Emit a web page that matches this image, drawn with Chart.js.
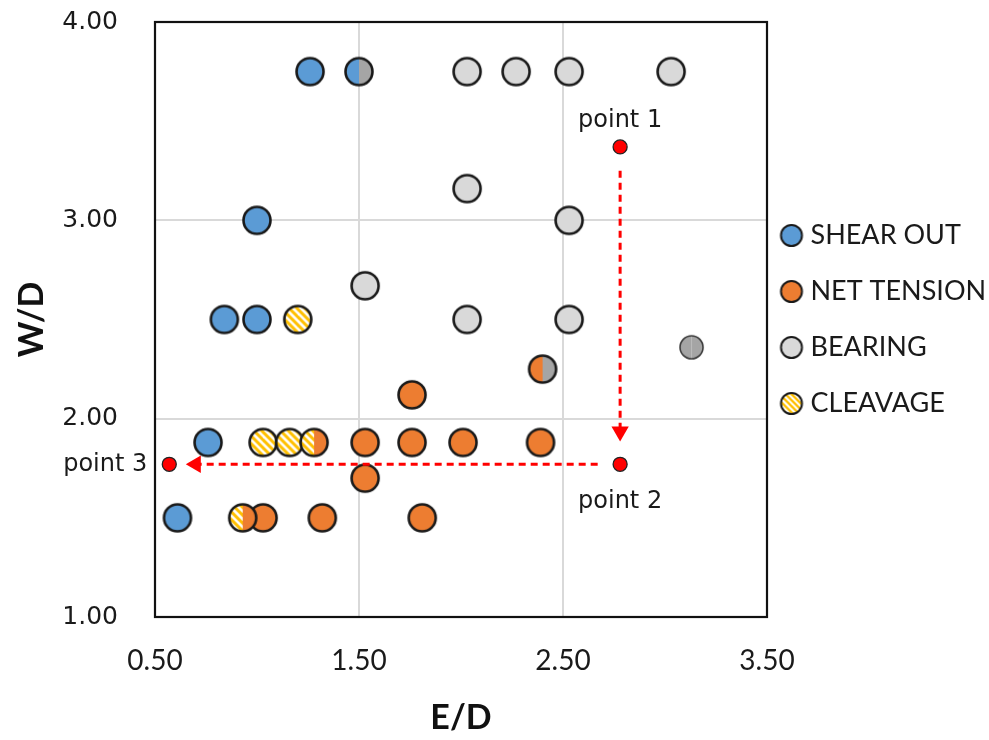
<!DOCTYPE html>
<html><head><meta charset="utf-8">
<script src="https://cdn.jsdelivr.net/npm/chart.js@4.4.1/dist/chart.umd.min.js"></script>
<style>html,body{margin:0;padding:0;background:#fff;} #wrap{width:989px;height:740px;}</style>
</head><body><div id="wrap"><canvas id="c" width="989" height="740"></canvas></div>
<script>
// ---- data ----
const xTickValues = [0.5, 1.5, 2.5, 3.5];
const xTickLabels = ['0.50', '1.50', '2.50', '3.50'];
const yTickValues = [1, 2, 3, 4];
const yTickLabels = ['1.00', '2.00', '3.00', '4.00'];
const legendNames = ['SHEAR OUT', 'NET TENSION', 'BEARING', 'CLEAVAGE'];

const shearOutE = [1.26, 1.00, 0.84, 1.00, 0.76, 0.61];
const shearOutW = [3.75, 3.00, 2.50, 2.50, 1.88, 1.50];
const netTensionE = [1.76, 1.53, 1.76, 2.01, 2.39, 1.53, 1.03, 1.32, 1.81];
const netTensionW = [2.12, 1.88, 1.88, 1.88, 1.88, 1.70, 1.50, 1.50, 1.50];
const bearingE = [2.03, 2.27, 2.53, 3.03, 2.03, 2.53, 1.53, 2.03, 2.53];
const bearingW = [3.75, 3.75, 3.75, 3.75, 3.16, 3.00, 2.67, 2.50, 2.50];
const cleavageE = [1.20, 1.03, 1.16];
const cleavageW = [2.50, 1.88, 1.88];
const shearBearingE = [1.50];
const shearBearingW = [3.75];
const tensionBearingE = [2.40];
const tensionBearingW = [2.25];
const cleavageTensionE = [1.28, 0.93];
const cleavageTensionW = [1.88, 1.50];
const otherE = [3.13];
const otherW = [2.36];
const pointNames = ['point 1', 'point 2', 'point 3'];
const pointE = [2.78, 2.78, 0.57];
const pointW = [3.37, 1.77, 1.77];
const arrowDownE = [2.78, 2.78];
const arrowDownW = [3.25, 1.935];
const arrowLeftE = [2.67, 0.70];
const arrowLeftW = [1.77, 1.77];

const zip = (xs, ys) => xs.map((x, i) => ({x, y: ys[i]}));

// ---- marker images ----
const BLUE = '#5B9BD5', ORANGE = '#ED7D31', LGREY = '#D9D9D9', DGREY = '#A5A5A5', YEL = '#FFC000';
function makeMarker(opt) {
  const r = opt.r, lw = opt.lw;
  const size = Math.ceil(2 * r + lw + 2);
  const W = opt.w || size, H = size;
  const cx = opt.cx != null ? opt.cx : W / 2, cy = H / 2;
  const c = document.createElement('canvas'); c.width = W; c.height = H;
  const g = c.getContext('2d');
  function fillHalf(fill, x0, x1) {
    g.save(); g.beginPath(); g.rect(x0, 0, x1 - x0, H); g.clip();
    g.beginPath(); g.arc(cx, cy, r, 0, Math.PI * 2); g.clip();
    if (fill === 'hatch') {
      g.fillStyle = YEL; g.fillRect(0, 0, W, H);
      g.strokeStyle = '#fff'; g.lineWidth = r * 0.19;
      const step = r * 0.58;
      for (let k = -2 * H; k < 2 * W; k += step) { g.beginPath(); g.moveTo(k, 0); g.lineTo(k + H, H); g.stroke(); }
    } else { g.fillStyle = fill; g.fillRect(0, 0, W, H); }
    g.restore();
  }
  fillHalf(opt.left, 0, cx);
  fillHalf(opt.right || opt.left, cx, W);
  g.beginPath(); g.arc(cx, cy, r, 0, Math.PI * 2);
  g.lineWidth = lw; g.strokeStyle = opt.stroke || '#1a1a1a'; g.stroke();
  return c;
}
const R = 13.5, LW = 2.6;
const mBlue = makeMarker({r: R, lw: LW, left: BLUE});
const mOrange = makeMarker({r: R, lw: LW, left: ORANGE});
const mBearing = makeMarker({r: R, lw: LW, left: LGREY});
const mCleavage = makeMarker({r: R, lw: LW, left: 'hatch'});
const mBlueGrey = makeMarker({r: R, lw: LW, left: BLUE, right: DGREY});
const mOrangeGrey = makeMarker({r: R, lw: LW, left: ORANGE, right: DGREY});
const mCleavOrange = makeMarker({r: R, lw: LW, left: 'hatch', right: ORANGE});
const mOther = makeMarker({r: 11.5, lw: 1.6, left: DGREY, stroke: '#3a3a3a'});
const legendFills = [BLUE, ORANGE, LGREY, 'hatch'];
const legendIcons = legendFills.map(f => makeMarker({r: 10.5, lw: 2, left: f, w: 44, cx: 17}));

// ---- layout targets ----
const AREA_RIGHT = 767;
const LEG_FONT = 27, LEG_PAD = 29;

const frame = {
  id: 'frame',
  beforeDatasetsDraw(chart) {
    const {ctx, chartArea: a} = chart;
    ctx.save(); ctx.strokeStyle = '#111'; ctx.lineWidth = 2.2;
    ctx.strokeRect(a.left, a.top, a.right - a.left, a.bottom - a.top);
    ctx.restore();
  }
};
const labelsPlugin = {
  id: 'pointLabels',
  afterDatasetsDraw(chart) {
    const idx = chart.data.datasets.findIndex(d => d.id === 'points');
    const meta = chart.getDatasetMeta(idx);
    const {ctx} = chart;
    ctx.save(); ctx.fillStyle = '#1a1a1a'; ctx.font = '24px "DejaVu Sans"'; ctx.textBaseline = 'middle';
    const offs = [[0, -26, 'center'], [0, 37, 'center'], [-22, 0, 'right']];
    meta.data.forEach((p, i) => {
      ctx.textAlign = offs[i][2];
      ctx.fillText(pointNames[i], p.x + offs[i][0], p.y + offs[i][1]);
    });
    ctx.restore();
  }
};

const base = {showLine: false, pointRadius: 14, clip: false};
const chart = new Chart(document.getElementById('c'), {
  type: 'scatter',
  data: {
    datasets: [
      {...base, label: 'SHEAR OUT', data: zip(shearOutE, shearOutW), pointStyle: mBlue, order: 10},
      {...base, label: 'NET TENSION', data: zip(netTensionE, netTensionW), pointStyle: mOrange, order: 9},
      {...base, label: 'BEARING', data: zip(bearingE, bearingW), pointStyle: mBearing, order: 8},
      {...base, label: 'CLEAVAGE', data: zip(cleavageE, cleavageW), pointStyle: mCleavage, order: 7},
      {...base, label: 'SHEAR OUT / BEARING', data: zip(shearBearingE, shearBearingW), pointStyle: mBlueGrey, order: 6},
      {...base, label: 'NET TENSION / BEARING', data: zip(tensionBearingE, tensionBearingW), pointStyle: mOrangeGrey, order: 5},
      {...base, label: 'CLEAVAGE / NET TENSION', data: zip(cleavageTensionE, cleavageTensionW), pointStyle: mCleavOrange, order: 4},
      {...base, label: 'OTHER', data: zip(otherE, otherW), pointStyle: mOther, order: 3},
      {label: 'arrow 1-2', data: zip(arrowDownE, arrowDownW), showLine: true, clip: false,
        borderColor: '#FF0000', borderWidth: 3, borderDash: [7, 5],
        pointRadius: [0, 10], pointStyle: 'triangle', pointRotation: 180,
        pointBackgroundColor: '#FF0000', pointBorderWidth: 0, order: 2},
      {label: 'arrow 2-3', data: zip(arrowLeftE, arrowLeftW), showLine: true, clip: false,
        borderColor: '#FF0000', borderWidth: 3, borderDash: [7, 5],
        pointRadius: [0, 10], pointStyle: 'triangle', pointRotation: 270,
        pointBackgroundColor: '#FF0000', pointBorderWidth: 0, order: 2},
      {id: 'points', label: 'points', data: zip(pointE, pointW), showLine: false, clip: false,
        pointRadius: 7, pointBackgroundColor: '#FF0000', pointBorderColor: '#222', pointBorderWidth: 1.3, order: 1}
    ]
  },
  options: {
    responsive: false, animation: false, events: [],
    layout: {padding: {left: 0, top: 22, right: 0, bottom: 0}},
    scales: {
      x: {
        type: 'linear', min: 0.5, max: 3.5,
        afterBuildTicks: s => { s.ticks = xTickValues.map(v => ({value: v})); },
        afterFit: s => { s.height = 123; s.paddingLeft = 0; s.paddingRight = 0; },
        ticks: {callback: (v, i) => xTickLabels[i], color: '#1a1a1a', padding: 27,
          font: {family: 'Lato', size: 28}, maxRotation: 0},
        grid: {color: '#D9D9D9', lineWidth: 2, drawTicks: false},
        border: {display: false},
        title: {display: true, text: 'E/D', color: '#111', font: {family: 'Lato', size: 34, weight: 'bold'},
          padding: {top: 0, bottom: 2}}
      },
      y: {
        type: 'linear', min: 1, max: 4,
        afterBuildTicks: s => { s.ticks = yTickValues.map(v => ({value: v})); },
        afterFit: s => { s.width = 155; s.paddingTop = 0; s.paddingBottom = 0; },
        ticks: {callback: (v, i) => yTickLabels[i], color: '#1a1a1a', padding: 37,
          font: {family: 'DejaVu Sans', size: 25}},
        grid: {color: '#D9D9D9', lineWidth: 2, drawTicks: false},
        border: {display: false},
        title: {display: true, text: 'W/D', color: '#111', font: {family: 'Lato', size: 34, weight: 'bold'},
          padding: {top: 12, bottom: 0}}
      }
    },
    plugins: {
      tooltip: {enabled: false},
      legend: {
        position: 'right', fullSize: false, align: 'center', maxWidth: 989 - AREA_RIGHT,
        labels: {
          usePointStyle: true, boxWidth: 1, padding: LEG_PAD,
          font: {family: 'Lato', size: LEG_FONT}, color: '#1a1a1a',
          generateLabels: () => legendNames.map((t, i) => ({
            text: t, pointStyle: legendIcons[i], fillStyle: 'transparent', strokeStyle: 'transparent',
            lineWidth: 0, hidden: false, datasetIndex: i, fontColor: '#1a1a1a'
          }))
        }
      }
    }
  },
  plugins: [frame, labelsPlugin]
});
// keep the plot area's right edge where the reference has it
const dx = chart.chartArea.right - AREA_RIGHT;
if (dx > 0.5) { chart.options.layout.padding.right = dx; chart.update(); }
</script>
</body></html>
